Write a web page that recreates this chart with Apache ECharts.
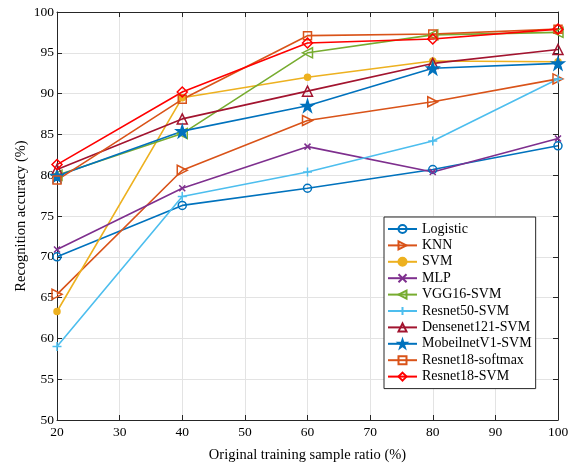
<!DOCTYPE html>
<html>
<head>
<meta charset="utf-8">
<script src="https://cdn.jsdelivr.net/npm/echarts@6/dist/echarts.min.js"></script>
<style>
  html, body { margin: 0; padding: 0; background: #fff; }
  #chart { width: 570px; height: 470px; }
</style>
</head>
<body>
<div id="chart"></div>
<script>
// sample ratios on the x axis
const ratios = [20, 40, 60, 80, 100];

// accuracy (%) per method
const logistic = [70.0, 76.3, 78.4, 80.7, 83.6];
const knn = [65.4, 80.6, 86.7, 89.0, 91.8];
const svm = [63.3, 89.5, 92.0, 94.0, 93.9];
const mlp = [70.9, 78.4, 83.5, 80.4, 84.5];
const vgg16Svm = [80.0, 85.1, 95.0, 97.2, 97.5];
const resnet50Svm = [59.0, 77.4, 80.4, 84.2, 91.8];
const densenet121Svm = [80.7, 86.9, 90.3, 93.7, 95.4];
const mobilenetV1Svm = [79.9, 85.4, 88.5, 93.1, 93.7];
const resnet18Softmax = [79.4, 89.3, 97.1, 97.3, 97.9];
const resnet18Svm = [81.3, 90.2, 96.2, 96.7, 97.9];

const FONT = "Liberation Serif";
const STAR = "path://M50,0L61.8,35.5L99,35.5L69,57.5L80.3,93L50,71L19.7,93L31,57.5L1,35.5L38.2,35.5Z";
const PLUS = "path://M5,0L5,10M0,5L10,5";
const CROSS = "path://M0,0L10,10M10,0L0,10";

// name, values, colour, marker, hollow?, size, rotation
const methods = [
    ["Logistic", logistic, "#0072BD", "circle", true, 8, 0],
    ["KNN", knn, "#D95319", "triangle", true, 10, -90],
    ["SVM", svm, "#EDB120", "circle", false, 6, 0],
    ["MLP", mlp, "#7E2F8E", CROSS, true, 6, 0],
    ["VGG16-SVM", vgg16Svm, "#77AC30", "triangle", true, 10, 90],
    ["Resnet50-SVM", resnet50Svm, "#4DBEEE", PLUS, true, 9, 0],
    ["Densenet121-SVM", densenet121Svm, "#A2142F", "triangle", true, 10, 0],
    ["MobeilnetV1-SVM", mobilenetV1Svm, "#0072BD", STAR, false, 12, 0],
    ["Resnet18-softmax", resnet18Softmax, "#D95319", "rect", true, 8, 0],
    ["Resnet18-SVM", resnet18Svm, "#FF0000", "diamond", true, 10, 0],
];

const chart = echarts.init(document.getElementById("chart"));

const series = methods.map(([name, vals, color, symbol, hollow, size, rot]) => ({
    name: name,
    type: "line",
    data: ratios.map((r, i) => [r, vals[i]]),
    symbol: symbol,
    symbolSize: size,
    symbolRotate: rot,
    showAllSymbol: true,
    lineStyle: { color: color, width: 1.6 },
    itemStyle: {
        color: hollow ? "rgba(255,255,255,0)" : color,
        borderColor: color,
        borderWidth: 1.5,
    },
    emphasis: { disabled: true },
    animation: false,
}));

const axisCommon = {
    axisLine: { show: true, lineStyle: { color: "#262626", width: 1 } },
    axisTick: { show: true, inside: true, length: 5, lineStyle: { color: "#262626" } },
};

chart.setOption({
    animation: false,
    grid: [{ left: 57, right: 12, top: 12, bottom: 50, show: false, outerBoundsMode: "none", containLabel: false }],
    legend: {
        orient: "vertical",
        left: 384,
        top: 217,
        backgroundColor: "#fff",
        borderColor: "#262626",
        borderWidth: 1,
        borderRadius: 0,
        padding: [5, 4, 5, 3],
        itemGap: 2.4,
        itemWidth: 29,
        itemHeight: 10,
        textStyle: { fontFamily: FONT, fontSize: 14, color: "#000" },
        data: methods.map(m => m[0]),
    },
    xAxis: [
        Object.assign({
            type: "value", min: 20, max: 100, interval: 10,
            name: "Original training sample ratio (%)",
            nameLocation: "middle", nameGap: 28, nameMoveOverlap: false,
            nameTextStyle: { fontFamily: FONT, fontSize: 14.5, color: "#000" },
            axisLabel: { fontFamily: FONT, fontSize: 13.5, color: "#000", margin: 5 },
            splitLine: { show: true, lineStyle: { color: "#e3e3e3" } },
        }, axisCommon),
        Object.assign({
            type: "value", min: 20, max: 100, interval: 10, position: "top",
            axisLabel: { show: false }, splitLine: { show: false },
        }, axisCommon),
    ],
    yAxis: [
        Object.assign({
            type: "value", min: 50, max: 100, interval: 5,
            name: "Recognition accuracy (%)",
            nameLocation: "middle", nameGap: 28, nameMoveOverlap: false,
            nameTextStyle: { fontFamily: FONT, fontSize: 14.5, color: "#000" },
            axisLabel: { fontFamily: FONT, fontSize: 13.5, color: "#000", margin: 3 },
            splitLine: { show: true, lineStyle: { color: "#e3e3e3" } },
        }, axisCommon),
        Object.assign({
            type: "value", min: 50, max: 100, interval: 5, position: "right",
            axisLabel: { show: false }, splitLine: { show: false },
        }, axisCommon),
    ],
    series: series,
});
</script>
</body>
</html>
